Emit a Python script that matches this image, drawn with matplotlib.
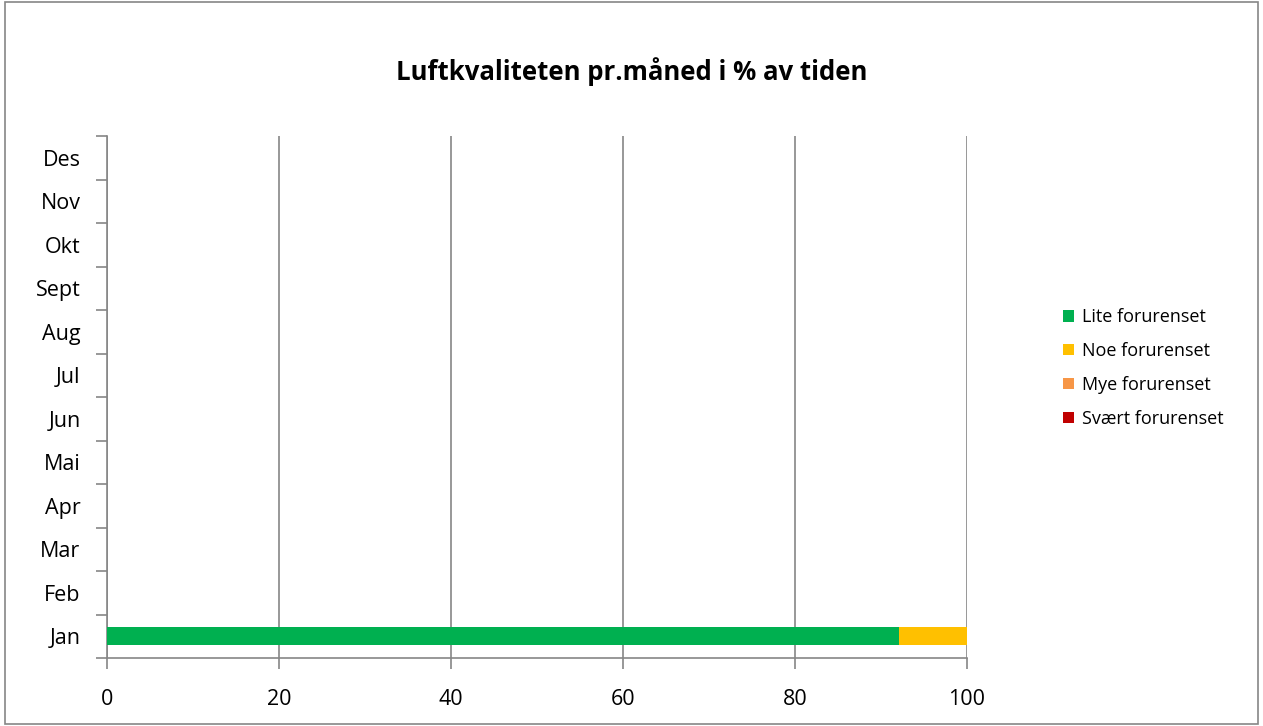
import numpy as np
import matplotlib.pyplot as plt
from matplotlib.patches import Rectangle

plt.rcParams['font.family'] = ['Open Sans', 'DejaVu Sans']

months = ['Jan', 'Feb', 'Mar', 'Apr', 'Mai', 'Jun', 'Jul', 'Aug', 'Sept', 'Okt', 'Nov', 'Des']
series = ['Lite forurenset', 'Noe forurenset', 'Mye forurenset', 'Svært forurenset']
colors = ['#00B050', '#FFC000', '#F79646', '#C00000']
lite = [92.1, 0, 0, 0, 0, 0, 0, 0, 0, 0, 0, 0]
noe = [7.9, 0, 0, 0, 0, 0, 0, 0, 0, 0, 0, 0]
mye = [0, 0, 0, 0, 0, 0, 0, 0, 0, 0, 0, 0]
svaert = [0, 0, 0, 0, 0, 0, 0, 0, 0, 0, 0, 0]

fig = plt.figure(figsize=(12.63, 7.26), dpi=100)
ax = fig.add_axes([107/1263, 1-658/726, (967-107)/1263, (658-136)/726])

y = np.arange(len(months))
left = np.zeros(len(months))
for vals, name, c in zip([lite, noe, mye, svaert], series, colors):
    ax.barh(y, vals, left=left, height=0.42, color=c, label=name, zorder=3)
    left += np.array(vals)

grid_c = '#868686'
ax.set_xlim(0, 100)
ax.set_ylim(-0.5, len(months) - 0.5)
ax.set_xticks(np.arange(0, 101, 20))
ax.set_yticks(y)
ax.set_yticklabels(months)
ax.set_yticks(np.arange(-0.5, len(months), 1), minor=True)
ax.tick_params(axis='y', which='major', length=0, pad=19, labelsize=15.5)
ax.tick_params(axis='y', which='minor', length=8, color=grid_c, width=1.2)
ax.tick_params(axis='x', length=8, color=grid_c, width=1.2, labelsize=15.5, pad=14)
ax.xaxis.grid(True, color=grid_c, linewidth=1.2, zorder=0)
for s in ['top', 'right']:
    ax.spines[s].set_visible(False)
for s in ['left', 'bottom']:
    ax.spines[s].set_color(grid_c)
    ax.spines[s].set_linewidth(1.2)

fig.text(0.5, 1-72/726, 'Luftkvaliteten pr.måned i % av tiden', ha='center', va='center',
         fontsize=18.5, fontweight='bold')

leg = fig.legend(loc='center left', bbox_to_anchor=(1047/1263, 1-368/726), frameon=False,
                 fontsize=13, handlelength=0.6, handleheight=0.6, handletextpad=0.45,
                 labelspacing=0.88)

fig.patches.append(Rectangle((0.004, 0.003), 0.992, 0.994, transform=fig.transFigure,
                             fill=False, edgecolor=grid_c, linewidth=1.2))

fig.savefig('out.png', dpi=100)
